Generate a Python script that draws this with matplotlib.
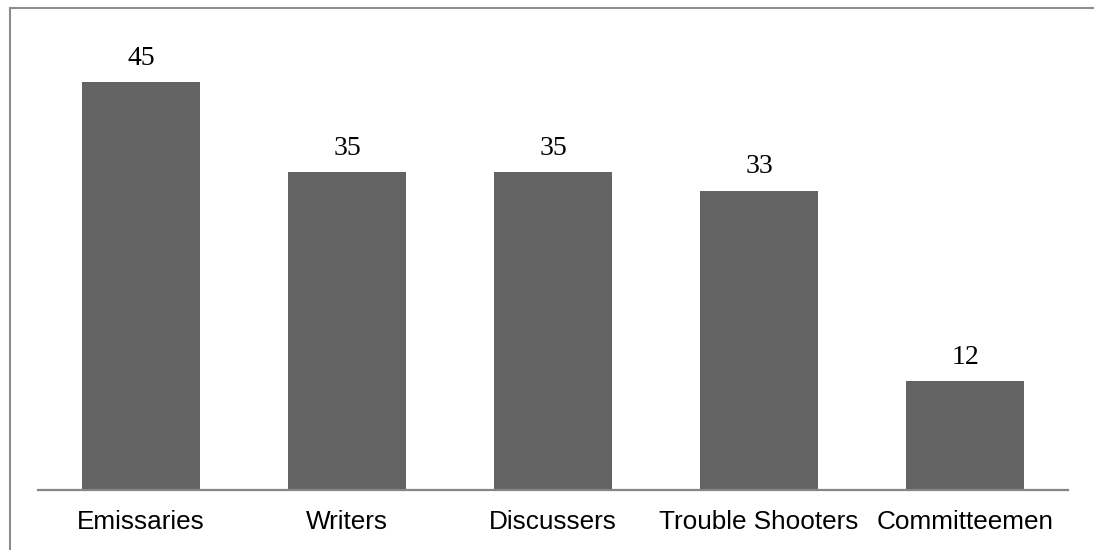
import matplotlib.pyplot as plt
from matplotlib.lines import Line2D

categories = ["Emissaries", "Writers", "Discussers", "Trouble Shooters", "Committeemen"]
values = [45, 35, 35, 33, 12]

W, H = 1094, 550
fig = plt.figure(figsize=(W / 100, H / 100), dpi=100)

# outer chart frame (only left and top visible in the crop)
fig.add_artist(Line2D([9.5 / W, 9.5 / W], [0, 1 - 7.5 / H], color="#8c8c8c", lw=1.5))
fig.add_artist(Line2D([9.5 / W, 1], [1 - 7.5 / H, 1 - 7.5 / H], color="#8c8c8c", lw=1.5))

left, right = 38 / W, 1068 / W
bottom, top = (H - 489.5) / H, (H - 36.5) / H
ax = fig.add_axes([left, bottom, right - left, top - bottom])

x = range(len(categories))
bars = ax.bar(x, values, width=0.57, color="#636363")

for b, v in zip(bars, values):
    ax.annotate(str(v), (b.get_x() + b.get_width() / 2, v),
                xytext=(0, 8), textcoords="offset points",
                ha="center", va="bottom", fontsize=20,
                family="Liberation Serif", color="black")

ax.set_xlim(-0.5, len(categories) - 0.5)
ax.set_ylim(0, 50)
ax.set_xticks(list(x))
ax.set_xticklabels(categories, fontsize=18.8, family="Liberation Sans")
ax.tick_params(axis="x", length=0, pad=15)
ax.set_yticks([])

for s in ["top", "right", "left"]:
    ax.spines[s].set_visible(False)
ax.spines["bottom"].set_color("#868686")
ax.spines["bottom"].set_linewidth(1.6)

fig.savefig("out.png", dpi=100)
